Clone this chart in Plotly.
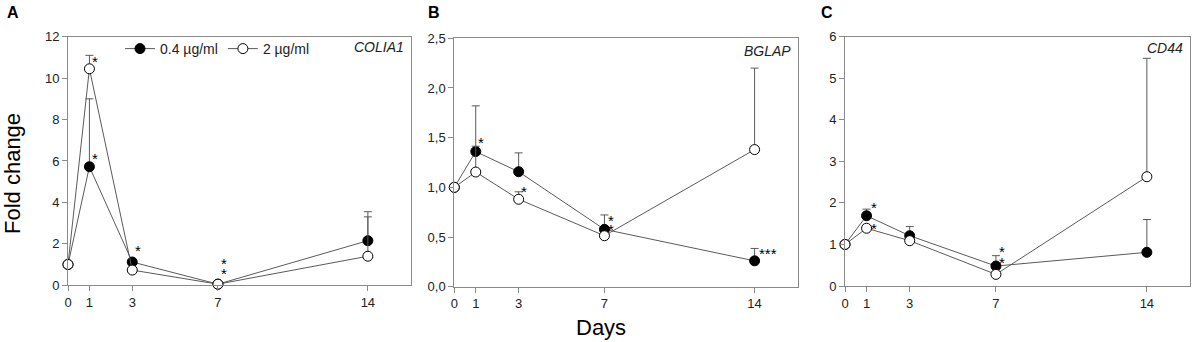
import plotly.graph_objects as go

days = [0, 1, 3, 7, 14]
x_ticks = [0, 1, 3, 7, 14]
series_names = ["0.4 µg/ml", "2 µg/ml"]
genes = ["COLIA1", "BGLAP", "CD44"]
panel_letters = ["A", "B", "C"]

# Panel A - COLIA1
colia1_low = [1.0, 5.72, 1.12, 0.05, 2.15]
colia1_low_err = [0, 3.28, 0, 0, 1.40]
colia1_high = [1.0, 10.45, 0.73, 0.05, 1.40]
colia1_high_err = [0, 0.65, 0, 0, 1.90]

# Panel B - BGLAP
bglap_low = [1.0, 1.36, 1.157, 0.577, 0.26]
bglap_low_err = [0, 0.46, 0.19, 0.145, 0.125]
bglap_high = [1.0, 1.154, 0.88, 0.513, 1.38]
bglap_high_err = [0, 0.26, 0.075, 0, 0.82]

# Panel C - CD44
cd44_low = [1.0, 1.69, 1.21, 0.48, 0.81]
cd44_low_err = [0, 0.16, 0.22, 0.25, 0.79]
cd44_high = [1.0, 1.39, 1.09, 0.28, 2.63]
cd44_high_err = [0, 0, 0, 0, 2.85]

y_ranges = [[0, 12], [0, 2.5], [0, 6]]
y_dtick = [2, 0.5, 1]
y_format = ["d", ".1f", "d"]

# significance marks
sig_x = [[1.26, 1.26, 3.27, 7.28, 7.28],
         [1.24, 3.25, 7.32, 7.32, 14.62],
         [1.34, 1.34, 7.30, 7.30]]
sig_y = [[10.93, 6.24, 1.80, 1.17, 0.69],
         [1.48, 0.99, 0.70, 0.61, 0.36],
         [1.97, 1.45, 0.91, 0.64]]
sig_text = [["*", "*", "*", "*", "*"],
            ["*", "*", "*", "*", "***"],
            ["*", "*", "*", "*"]]

data_low = [colia1_low, bglap_low, cd44_low]
err_low = [colia1_low_err, bglap_low_err, cd44_low_err]
data_high = [colia1_high, bglap_high, cd44_high]
err_high = [colia1_high_err, bglap_high_err, cd44_high_err]

W, H = 1192, 342
x_px = [(68, 410.7), (454.3, 797.5), (845, 1190)]
y_px = [(36.7, 285.2), (38.3, 286.7), (36.7, 286.0)]
gene_y = [47, 51, 48]


def px(v):
    return v / W


def py(v):
    return 1 - v / H


LINE = "#5a5a5a"
AXIS = "#8a8a8a"
FONT = "Liberation Sans, Arial, sans-serif"

fig = go.Figure()

for i in range(3):
    xa = "x" if i == 0 else f"x{i+1}"
    ya = "y" if i == 0 else f"y{i+1}"
    for k, (vals, errs, fill) in enumerate([(data_low[i], err_low[i], "black"),
                                             (data_high[i], err_high[i], "white")]):
        fig.add_trace(go.Scatter(
            x=days, y=vals, xaxis=xa, yaxis=ya,
            mode="lines+markers",
            name=series_names[k],
            legendgroup=series_names[k],
            showlegend=(i == 0),
            cliponaxis=False,
            line=dict(color=LINE, width=1),
            marker=dict(size=10, color=fill, line=dict(color="black", width=1)),
            error_y=dict(type="data", symmetric=False, array=errs,
                         arrayminus=[0] * len(errs), color=LINE,
                         thickness=1, width=4),
        ))

layout = dict(
    width=W, height=H,
    margin=dict(l=0, r=0, t=0, b=0, pad=0, autoexpand=False),
    plot_bgcolor="white", paper_bgcolor="white",
    separators=",.",
    font=dict(family=FONT, size=13, color="#222"),
    legend=dict(orientation="h", x=px(120), y=py(33),
                xanchor="left", yanchor="top",
                bgcolor="rgba(0,0,0,0)", font=dict(size=14, color="#222"),
                itemwidth=30, tracegroupgap=0),
    showlegend=True,
)

annotations = []
for i in range(3):
    xkey = "xaxis" if i == 0 else f"xaxis{i+1}"
    ykey = "yaxis" if i == 0 else f"yaxis{i+1}"
    xa = "x" if i == 0 else f"x{i+1}"
    ya = "y" if i == 0 else f"y{i+1}"
    layout[xkey] = dict(
        domain=[px(x_px[i][0]), min(1, px(x_px[i][1]))],
        range=[0, 16], tickmode="array", tickvals=x_ticks,
        showline=True, mirror=True, linecolor=AXIS, linewidth=1,
        ticks="outside", ticklen=5, tickcolor=AXIS,
        showgrid=False, zeroline=False, anchor=ya, automargin=False,
        tickfont=dict(size=13, color="#222"),
    )
    layout[ykey] = dict(
        domain=[py(y_px[i][1]), py(y_px[i][0])],
        range=y_ranges[i], dtick=y_dtick[i], tick0=0, tickformat=y_format[i],
        showline=True, mirror=True, linecolor=AXIS, linewidth=1,
        ticks="outside", ticklen=5, tickcolor=AXIS,
        showgrid=False, zeroline=False, anchor=xa, automargin=False,
        tickfont=dict(size=13, color="#222"),
    )
    annotations.append(dict(
        text=f"<i>{genes[i]}</i>", xref="paper", yref="paper",
        x=px(x_px[i][1] - 5), y=py(gene_y[i]), xanchor="right", yanchor="middle",
        showarrow=False, font=dict(size=14, color="#222"),
    ))
    lx = [5, 426, 819][i]
    annotations.append(dict(
        text=f"<b>{panel_letters[i]}</b>", xref="paper", yref="paper",
        x=px(lx), y=py(12), xanchor="left", yanchor="middle",
        showarrow=False, font=dict(size=16, color="black"),
    ))
    for sx, sy, st in zip(sig_x[i], sig_y[i], sig_text[i]):
        annotations.append(dict(
            text=st, x=sx, y=sy, xref=xa, yref=ya, xanchor="center",
            yanchor="middle", yshift=-3, showarrow=False,
            font=dict(size=15, color="black"),
        ))

annotations.append(dict(
    text="Fold change", xref="paper", yref="paper", x=px(12), y=py(174),
    textangle=-90, showarrow=False, xanchor="center", yanchor="middle",
    font=dict(size=22, color="black"),
))
annotations.append(dict(
    text="Days", xref="paper", yref="paper", x=px(601), y=py(327),
    showarrow=False, xanchor="center", yanchor="middle",
    font=dict(size=22, color="black"),
))
layout["annotations"] = annotations

fig.update_layout(**layout)
fig.write_html(
    "out.html",
    config={"displayModeBar": False},
    post_script="document.body.style.margin='0';document.body.style.overflow='hidden';",
)
